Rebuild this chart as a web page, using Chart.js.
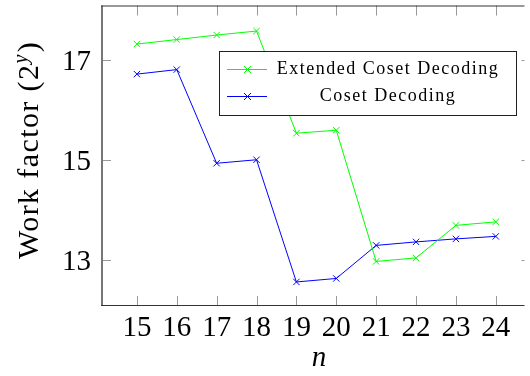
<!DOCTYPE html>
<html>
<head>
<meta charset="utf-8">
<script src="https://cdn.jsdelivr.net/npm/chart.js@4.4.1/dist/chart.umd.min.js"></script>
<style>
  html, body { margin: 0; padding: 0; background: #fff; }
  #wrap { width: 530px; height: 376px; }
</style>
</head>
<body>
<div id="wrap"><canvas id="myChart" width="530" height="376"></canvas></div>
<script>
// values
const nValues = [15, 16, 17, 18, 19, 20, 21, 22, 23, 24];
const extendedCoset = [17.31, 17.40, 17.49, 17.57, 15.53, 15.59, 12.97, 13.04, 13.69, 13.76];
const coset = [16.71, 16.80, 14.93, 15.00, 12.56, 12.63, 13.29, 13.36, 13.42, 13.47];
const yTicks = [13, 15, 17];
const seriesNames = ['Extended Coset Decoding', 'Coset Decoding'];

const serif = '"Liberation Serif", "DejaVu Serif", serif';

function pts(ys) {
  return nValues.map((n, i) => ({ x: n, y: ys[i] }));
}

// frame, inside ticks, tick labels, axis titles and legend (pgfplots look)
const texBits = {
  id: 'texBits',
  afterDraw(chart) {
    const ctx = chart.ctx;
    const a = chart.chartArea;
    const xs = chart.scales.x, ys = chart.scales.y;
    ctx.save();
    // ticks
    ctx.strokeStyle = '#999';
    ctx.lineWidth = 1;
    ctx.beginPath();
    nValues.forEach(n => {
      const px = Math.round(xs.getPixelForValue(n)) + 0.5;
      ctx.moveTo(px, a.bottom); ctx.lineTo(px, a.bottom - 10);
      ctx.moveTo(px, a.top); ctx.lineTo(px, a.top + 10);
    });
    yTicks.forEach(v => {
      const py = Math.round(ys.getPixelForValue(v)) + 0.5;
      ctx.moveTo(a.left, py); ctx.lineTo(a.left + 10, py);
      ctx.moveTo(a.right, py); ctx.lineTo(a.right - 3, py);
    });
    ctx.stroke();
    // frame (right side runs past the picture edge)
    ctx.strokeStyle = '#777';
    ctx.lineWidth = 2;
    ctx.beginPath();
    ctx.moveTo(a.left + 1, a.top); ctx.lineTo(a.left + 1, a.bottom);
    ctx.stroke();
    ctx.strokeStyle = '#333';
    ctx.lineWidth = 1;
    ctx.beginPath();
    ctx.moveTo(a.left, a.top + 0.5); ctx.lineTo(a.right, a.top + 0.5);
    ctx.moveTo(a.left, a.bottom - 0.5); ctx.lineTo(a.right, a.bottom - 0.5);
    ctx.stroke();

    // tick labels
    ctx.fillStyle = '#000';
    ctx.font = '29px ' + serif;
    ctx.textBaseline = 'alphabetic';
    ctx.textAlign = 'center';
    nValues.forEach(n => ctx.fillText(String(n), xs.getPixelForValue(n), 336));
    ctx.textAlign = 'right';
    yTicks.forEach(v => ctx.fillText(String(v), 91, ys.getPixelForValue(v) + 10));

    // y title: Work factor (2^y)
    ctx.translate(38, 150);
    ctx.rotate(-Math.PI / 2);
    ctx.letterSpacing = '1.4px';
    const big = '30px ' + serif, sup = 'italic 20px ' + serif;
    ctx.font = big;
    const w1 = ctx.measureText('Work factor (2').width;
    const w3 = ctx.measureText(')').width;
    ctx.font = sup;
    const w2 = ctx.measureText('y').width + 1;
    let x0 = -(w1 + w2 + w3) / 2;
    ctx.font = big; ctx.textAlign = 'left';
    ctx.fillText('Work factor (2', x0, 0);
    ctx.font = sup;
    ctx.fillText('y', x0 + w1, -11);
    ctx.font = big;
    ctx.fillText(')', x0 + w1 + w2, 0);
    ctx.setTransform(1, 0, 0, 1, 0, 0);
    ctx.letterSpacing = '0px';

    // x title
    ctx.font = 'italic 29px ' + serif;
    ctx.textAlign = 'center';
    ctx.fillText('n', 319, 366);

    // legend
    const lx = 219, ly = 51, lw = 297, lh = 64;
    ctx.fillStyle = '#fff';
    ctx.fillRect(lx, ly, lw, lh);
    ctx.strokeStyle = '#222';
    ctx.strokeRect(lx + 0.5, ly + 0.5, lw, lh);
    const rows = [69, 96];
    chart.data.datasets.forEach((ds, i) => {
      const yy = rows[i] + 0.5;
      ctx.strokeStyle = ds.borderColor;
      ctx.lineWidth = 1;
      ctx.beginPath();
      ctx.moveTo(227, yy); ctx.lineTo(267, yy);
      ctx.moveTo(244, yy - 3.5); ctx.lineTo(251, yy + 3.5);
      ctx.moveTo(244, yy + 3.5); ctx.lineTo(251, yy - 3.5);
      ctx.stroke();
      ctx.fillStyle = '#000';
      ctx.font = '18px ' + serif;
      ctx.letterSpacing = '1.5px';
      ctx.textAlign = 'center';
      ctx.textBaseline = 'middle';
      ctx.fillText(ds.label, 388, rows[i]);
    });
    ctx.restore();
  }
};

new Chart(document.getElementById('myChart').getContext('2d'), {
  type: 'line',
  data: {
    datasets: [{
      label: seriesNames[0],
      data: pts(extendedCoset),
      borderColor: '#00ff00',
      backgroundColor: '#00ff00',
      borderWidth: 1,
      pointStyle: 'crossRot',
      pointRadius: 4.5,
      pointBorderWidth: 1,
      tension: 0
    }, {
      label: seriesNames[1],
      data: pts(coset),
      borderColor: '#0000ff',
      backgroundColor: '#0000ff',
      borderWidth: 1,
      pointStyle: 'crossRot',
      pointRadius: 4.5,
      pointBorderWidth: 1,
      tension: 0
    }]
  },
  options: {
    responsive: false,
    animation: false,
    events: [],
    layout: { padding: { top: 5, right: 0, left: 0, bottom: 0 } },
    plugins: { legend: { display: false }, tooltip: { enabled: false } },
    scales: {
      x: {
        type: 'linear',
        min: 14.1,
        max: 24.72,
        afterBuildTicks: s => { s.ticks = nValues.map(v => ({ value: v })); },
        afterFit: s => { s.height = 70; s.paddingLeft = 0; s.paddingRight = 0; },
        grid: { display: false },
        border: { display: false },
        ticks: { display: false }
      },
      y: {
        min: 12.08,
        max: 18.08,
        afterBuildTicks: s => { s.ticks = yTicks.map(v => ({ value: v })); },
        afterFit: s => { s.width = 101; s.paddingTop = 0; s.paddingBottom = 0; },
        grid: { display: false },
        border: { display: false },
        ticks: { display: false }
      }
    }
  },
  plugins: [texBits]
});
</script>
</body>
</html>
